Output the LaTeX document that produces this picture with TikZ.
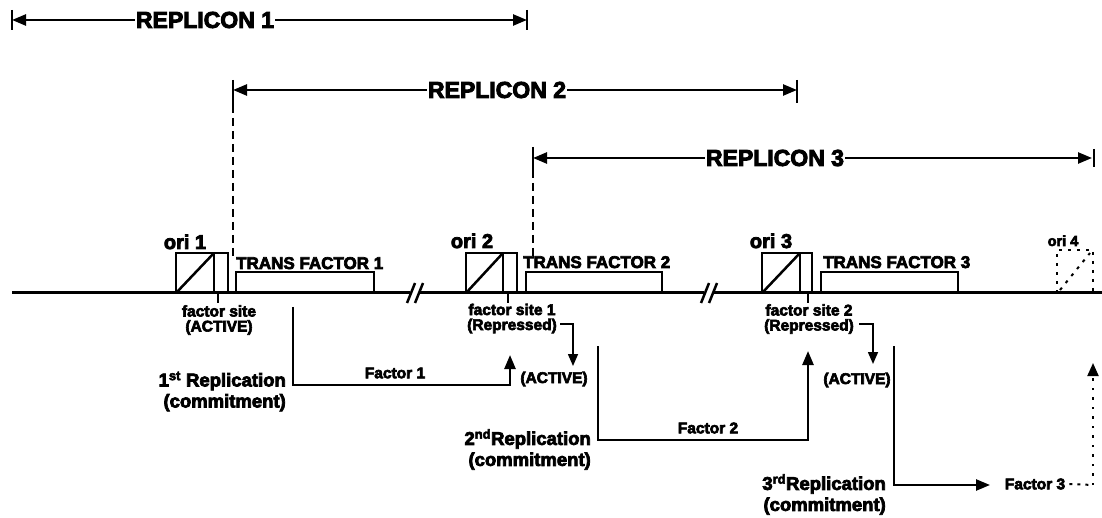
\documentclass[tikz,border=0pt]{standalone}
\usepackage{fontspec}
\setmainfont{Liberation Sans}
\newfontfamily\hb{Liberation Sans Bold}[FakeBold=4]
\usetikzlibrary{arrows.meta}
\begin{document}
\begin{tikzpicture}[x=1pt,y=-1pt,
  ln/.style={line width=2.5pt},
  arr/.style={-{Triangle[length=14pt,width=11pt]}},
  sarr/.style={-{Triangle[length=12pt,width=10pt]}},
  rep/.style={font=\hb\fontsize{23}{25}\selectfont, fill=white, inner sep=1pt},
  ori/.style={font=\hb\fontsize{20}{22}\selectfont, anchor=base, inner sep=0pt},
  tf/.style={font=\hb\fontsize{17}{18}\selectfont, anchor=base west, inner sep=0pt},
  sm/.style={font=\hb\fontsize{15.5}{15}\selectfont, inner sep=0pt, align=center},
  big/.style={font=\hb\fontsize{18.5}{21}\selectfont, inner sep=0pt, align=right, anchor=east},
  box/.style={ln},
  dsh/.style={line width=1.5pt, dash pattern=on 8pt off 5pt}
]
\useasboundingbox (0,0) rectangle (1102,518);

% ---------------- replicon ranges ----------------
\node[rep] (rep1) at (205,20) {REPLICON 1};
\coordinate (r1L) at (12,20);
\coordinate (r1R) at (527,20);
\draw[ln] (12,10) -- (12,30);
\draw[ln] (527,10) -- (527,30);
\draw[ln,arr] (rep1.west) -- (r1L);
\draw[ln,arr] (rep1.east) -- (r1R);

\node[rep] (rep2) at (497,90) {REPLICON 2};
\coordinate (r2L) at (233,90);
\coordinate (r2R) at (797,90);
\draw[ln] (233,80) -- (233,105);
\draw[ln] (797,80) -- (797,103);
\draw[ln,arr] (rep2.west) -- (r2L);
\draw[ln,arr] (rep2.east) -- (r2R);
\draw[dsh] (233,105) -- (233,258);

\node[rep] (rep3) at (775,158) {REPLICON 3};
\coordinate (r3L) at (533,158);
\coordinate (r3R) at (1092,158);
\draw[ln] (533,147) -- (533,170);
\draw[ln] (1094,149) -- (1094,167);
\draw[ln,arr] (rep3.west) -- (r3L);
\draw[ln,arr] (rep3.east) -- (r3R);
\draw[dsh] (533,170) -- (533,258);

% ---------------- chromosome line ----------------
\draw[line width=3pt] (12,293) -- (410,293);
\draw[line width=3pt] (420,293) -- (704,293);
\draw[line width=3pt] (714,293) -- (1102,293);
\draw[ln] (407,303) -- (415,283);
\draw[ln] (415,303) -- (423,283);
\draw[ln] (701,303) -- (709,283);
\draw[ln] (709,303) -- (717,283);

% ---------------- origins ----------------
\node[ori] (ori1) at (185,249) {ori 1};
\draw[box] (176,253) rectangle (228,293);
\draw[box] (214,253) -- (214,293);
\draw[box] (176,293) -- (214,253);
\draw[ln] (218,293) -- (218,303);

\node[ori] (ori2) at (472,248) {ori 2};
\draw[box] (466,253) rectangle (517,293);
\draw[box] (503,253) -- (503,293);
\draw[box] (466,293) -- (503,253);
\draw[ln] (508,293) -- (508,303);

\node[ori] (ori3) at (771,248) {ori 3};
\draw[box] (762,253) rectangle (812,293);
\draw[box] (800,253) -- (800,293);
\draw[box] (762,293) -- (800,253);
\draw[ln] (808,293) -- (808,303);

\node[ori, font=\hb\fontsize{14.5}{16}\selectfont] (ori4) at (1063,246) {ori 4};
\draw[line width=2pt, dash pattern=on 3pt off 6pt] (1057,293) -- (1057,250) -- (1093,250) -- (1093,293);
\draw[line width=2pt, dash pattern=on 3pt off 6pt] (1060,290) -- (1090,253);

% ---------------- trans factor genes ----------------
\node[tf] (tf1) at (236,269) {TRANS FACTOR 1};
\draw[box] (236,293) -- (236,272) -- (374,272) -- (374,293);
\node[tf] (tf2) at (523,268) {TRANS FACTOR 2};
\draw[box] (526,293) -- (526,272) -- (662,272) -- (662,293);
\node[tf] (tf3) at (823,268) {TRANS FACTOR 3};
\draw[box] (821,293) -- (821,272) -- (958,272) -- (958,293);

% ---------------- factor sites ----------------
\node[sm] (fs0) at (219,320) {factor site\\(ACTIVE)};
\node[sm] (fs1) at (512,318.5) {factor site 1\\(Repressed)};
\node[sm] (fs2) at (809,319) {factor site 2\\(Repressed)};

\node[sm] (act2) at (554,379) {(ACTIVE)};
\node[sm] (act3) at (857,380) {(ACTIVE)};

\coordinate (fs1c) at (560,324);
\coordinate (act2top) at (573,366);
\draw[line width=1.6pt,sarr] (fs1c) -| (act2top);
\coordinate (fs2c) at (859,324);
\coordinate (act3top) at (873,364);
\draw[line width=1.6pt,sarr] (fs2c) -| (act3top);

% ---------------- factor pathways ----------------
\node[sm] (fac1) at (395,373) {Factor 1};
\coordinate (f1a) at (293,307);
\coordinate (f1c) at (510,385);
\coordinate (f1tip) at (510,355);
\draw[ln,arr] (f1a) |- (f1c) -- (f1tip);

\node[sm] (fac2) at (708,428) {Factor 2};
\coordinate (f2a) at (598,346);
\coordinate (f2c) at (808,440);
\coordinate (f2tip) at (808,351);
\draw[ln,arr] (f2a) |- (f2c) -- (f2tip);

\node[sm] (fac3) at (1035,484) {Factor 3};
\coordinate (f3a) at (894,346);
\coordinate (f3tip) at (990,485);
\draw[ln,arr] (f3a) |- (f3tip);
\coordinate (f3d) at (1093,485);
\coordinate (f4tip) at (1093,363);
\draw[line width=2pt, dash pattern=on 3pt off 5pt] (fac3.east) ++(4pt,0) -- (f3d);
\draw[line width=2pt, dash pattern=on 2.5pt off 7pt, -{Triangle[length=13pt,width=11pt,sep=0pt]}] (f3d) -- (f4tip);

% ---------------- replication labels ----------------
\node[big] (repl1) at (286,391.5) {1\textsuperscript{st}~Replication\\(commitment)};
\node[big] (repl2) at (591,449.5) {2\textsuperscript{nd}Replication\\(commitment)};
\node[big] (repl3) at (886,494.5) {3\textsuperscript{rd}Replication\\(commitment)};
\end{tikzpicture}
\end{document}
